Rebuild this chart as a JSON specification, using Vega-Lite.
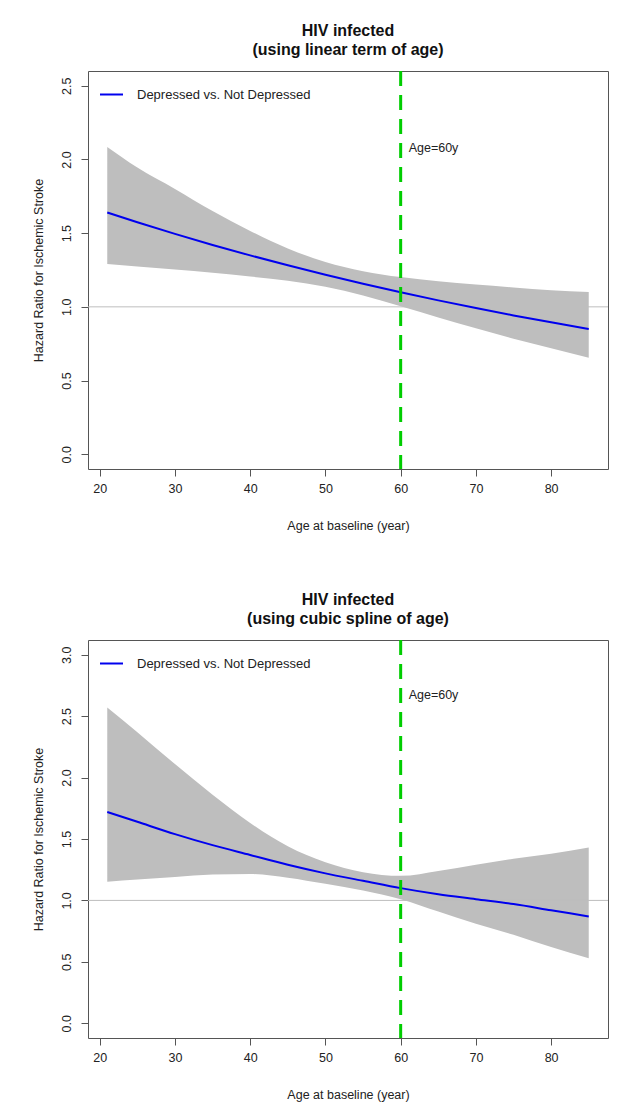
{
  "$schema": "https://vega.github.io/schema/vega-lite/v6.json",
  "background": "white",
  "padding": {"left": 31, "top": 22, "right": 12, "bottom": 5},
  "config": {
    "font": "Liberation Sans",
    "view": {"stroke": "#555555", "strokeWidth": 1},
    "axis": {"grid": false, "domain": false, "tickColor": "#555555", "tickSize": 7, "labelFontSize": 12.5, "labelColor": "#222222", "titleFontSize": 12.5, "titleColor": "#222222", "titleFontWeight": "normal", "labelFont": "Liberation Sans", "titleFont": "Liberation Sans"},
    "title": {"fontSize": 16, "fontWeight": "bold", "font": "Liberation Sans", "color": "#111111", "anchor": "middle", "offset": 12, "lineHeight": 19},
    "concat": {"spacing": 58},
    "legend": {"orient": "top-left", "offset": 11, "padding": 0, "symbolType": "stroke", "symbolSize": 529, "symbolStrokeWidth": 2, "labelFontSize": 13, "labelOffset": 13, "labelLimit": 0, "labelColor": "#222222", "labelFont": "Liberation Sans", "title": null}
  },
  "datasets": {
    "hr": [
      {"panel": "linear", "age": 21, "hr": 1.640, "lower": 1.290, "upper": 2.085},
      {"panel": "linear", "age": 25, "hr": 1.574, "lower": 1.274, "upper": 1.945},
      {"panel": "linear", "age": 30, "hr": 1.495, "lower": 1.253, "upper": 1.800},
      {"panel": "linear", "age": 35, "hr": 1.420, "lower": 1.231, "upper": 1.650},
      {"panel": "linear", "age": 40, "hr": 1.349, "lower": 1.206, "upper": 1.515},
      {"panel": "linear", "age": 45, "hr": 1.282, "lower": 1.177, "upper": 1.396},
      {"panel": "linear", "age": 50, "hr": 1.218, "lower": 1.136, "upper": 1.305},
      {"panel": "linear", "age": 55, "hr": 1.157, "lower": 1.077, "upper": 1.242},
      {"panel": "linear", "age": 60, "hr": 1.099, "lower": 1.004, "upper": 1.202},
      {"panel": "linear", "age": 65, "hr": 1.044, "lower": 0.928, "upper": 1.174},
      {"panel": "linear", "age": 70, "hr": 0.992, "lower": 0.854, "upper": 1.152},
      {"panel": "linear", "age": 75, "hr": 0.942, "lower": 0.784, "upper": 1.132},
      {"panel": "linear", "age": 80, "hr": 0.895, "lower": 0.719, "upper": 1.113},
      {"panel": "linear", "age": 85, "hr": 0.850, "lower": 0.655, "upper": 1.100},
      {"panel": "spline", "age": 21, "hr": 1.72, "lower": 1.153, "upper": 2.57},
      {"panel": "spline", "age": 25, "hr": 1.64, "lower": 1.17, "upper": 2.37},
      {"panel": "spline", "age": 30, "hr": 1.54, "lower": 1.19, "upper": 2.11},
      {"panel": "spline", "age": 35, "hr": 1.45, "lower": 1.21, "upper": 1.86},
      {"panel": "spline", "age": 40, "hr": 1.37, "lower": 1.215, "upper": 1.63},
      {"panel": "spline", "age": 45, "hr": 1.29, "lower": 1.185, "upper": 1.44},
      {"panel": "spline", "age": 50, "hr": 1.22, "lower": 1.135, "upper": 1.31},
      {"panel": "spline", "age": 55, "hr": 1.16, "lower": 1.08, "upper": 1.23},
      {"panel": "spline", "age": 60, "hr": 1.10, "lower": 1.01, "upper": 1.20},
      {"panel": "spline", "age": 65, "hr": 1.05, "lower": 0.91, "upper": 1.24},
      {"panel": "spline", "age": 70, "hr": 1.01, "lower": 0.81, "upper": 1.29},
      {"panel": "spline", "age": 75, "hr": 0.97, "lower": 0.72, "upper": 1.34},
      {"panel": "spline", "age": 80, "hr": 0.92, "lower": 0.62, "upper": 1.38},
      {"panel": "spline", "age": 85, "hr": 0.87, "lower": 0.53, "upper": 1.43}
    ]
  },
  "resolve": {"scale": {"color": "independent", "x": "independent", "y": "independent"}},
  "vconcat": [
    {
      "width": 520, "height": 398,
      "title": {"text": ["HIV infected", "(using linear term of age)"]},
      "layer": [
        {
          "data": {"name": "hr"},
          "transform": [{"filter": "datum.panel === 'linear'"}],
          "mark": {"type": "area", "color": "#bebebe", "opacity": 1, "interpolate": "monotone"},
          "encoding": {
            "x": {"field": "age", "type": "quantitative", "scale": {"domain": [18.44, 87.56], "nice": false, "zero": false}, "axis": {"values": [20, 30, 40, 50, 60, 70, 80], "title": "Age at baseline (year)", "labelPadding": 6, "titlePadding": 25}},
            "y": {"field": "lower", "type": "quantitative", "scale": {"domain": [-0.1, 2.6], "nice": false, "zero": false}, "axis": {"values": [0, 0.5, 1, 1.5, 2, 2.5], "format": ".1f", "labelAngle": -90, "labelPadding": 8, "title": "Hazard Ratio for Ischemic Stroke", "titlePadding": 15}},
            "y2": {"field": "upper"}
          }
        },
        {
          "data": {"values": [{}]},
          "mark": {"type": "rule", "color": "#bebebe", "strokeWidth": 1},
          "encoding": {"y": {"datum": 1}}
        },
        {
          "data": {"name": "hr"},
          "transform": [{"filter": "datum.panel === 'linear'"}],
          "mark": {"type": "line", "strokeWidth": 2, "interpolate": "monotone"},
          "encoding": {
            "x": {"field": "age", "type": "quantitative"},
            "y": {"field": "hr", "type": "quantitative"},
            "color": {"datum": "Depressed vs. Not Depressed", "scale": {"range": ["#0000ee"]}}
          }
        },
        {
          "data": {"values": [{}]},
          "mark": {"type": "rule", "color": "#00cd00", "strokeWidth": 3, "strokeDash": [15, 9]},
          "encoding": {"x": {"datum": 60}}
        },
        {
          "data": {"values": [{}]},
          "mark": {"type": "text", "align": "left", "dx": 8, "fontSize": 12.5, "color": "#222222"},
          "encoding": {"x": {"datum": 60}, "y": {"datum": 2.08}, "text": {"value": "Age=60y"}}
        }
      ]
    },
    {
      "width": 520, "height": 398,
      "title": {"text": ["HIV infected", "(using cubic spline of age)"]},
      "layer": [
        {
          "data": {"name": "hr"},
          "transform": [{"filter": "datum.panel === 'spline'"}],
          "mark": {"type": "area", "color": "#bebebe", "opacity": 1, "interpolate": "monotone"},
          "encoding": {
            "x": {"field": "age", "type": "quantitative", "scale": {"domain": [18.44, 87.56], "nice": false, "zero": false}, "axis": {"values": [20, 30, 40, 50, 60, 70, 80], "title": "Age at baseline (year)", "labelPadding": 6, "titlePadding": 25}},
            "y": {"field": "lower", "type": "quantitative", "scale": {"domain": [-0.12, 3.12], "nice": false, "zero": false}, "axis": {"values": [0, 0.5, 1, 1.5, 2, 2.5, 3], "format": ".1f", "labelAngle": -90, "labelPadding": 8, "title": "Hazard Ratio for Ischemic Stroke", "titlePadding": 15}},
            "y2": {"field": "upper"}
          }
        },
        {
          "data": {"values": [{}]},
          "mark": {"type": "rule", "color": "#bebebe", "strokeWidth": 1},
          "encoding": {"y": {"datum": 1}}
        },
        {
          "data": {"name": "hr"},
          "transform": [{"filter": "datum.panel === 'spline'"}],
          "mark": {"type": "line", "strokeWidth": 2, "interpolate": "monotone"},
          "encoding": {
            "x": {"field": "age", "type": "quantitative"},
            "y": {"field": "hr", "type": "quantitative"},
            "color": {"datum": "Depressed vs. Not Depressed", "scale": {"range": ["#0000ee"]}}
          }
        },
        {
          "data": {"values": [{}]},
          "mark": {"type": "rule", "color": "#00cd00", "strokeWidth": 3, "strokeDash": [15, 9]},
          "encoding": {"x": {"datum": 60}}
        },
        {
          "data": {"values": [{}]},
          "mark": {"type": "text", "align": "left", "dx": 8, "fontSize": 12.5, "color": "#222222"},
          "encoding": {"x": {"datum": 60}, "y": {"datum": 2.67}, "text": {"value": "Age=60y"}}
        }
      ]
    }
  ]
}
